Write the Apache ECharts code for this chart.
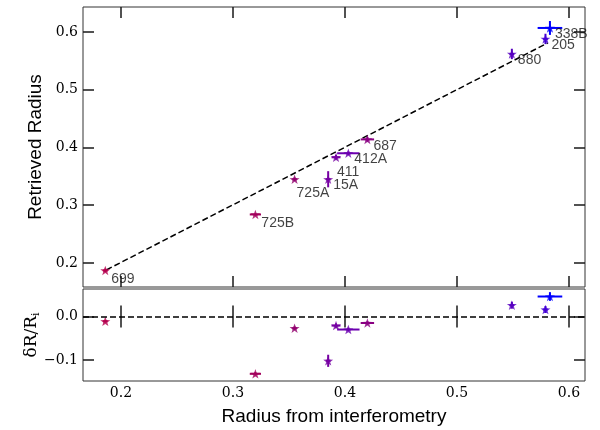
<!DOCTYPE html>
<html>
<head>
<meta charset="utf-8">
<script src="https://cdn.jsdelivr.net/npm/echarts@6/dist/echarts.min.js"></script>
<style>html,body{margin:0;padding:0;background:#fff}#chart{width:600px;height:430px}</style>
</head>
<body>
<div id="chart"></div>
<script>
// star names
var names = ['699', '725B', '725A', '15A', '411', '412A', '687', '880', '205', '338B'];
// radius from interferometry (x) and its error
var radiusInterf = [0.186, 0.320, 0.355, 0.385, 0.392, 0.403, 0.420, 0.549, 0.579, 0.583];
var radiusInterfErr = [0.002, 0.005, 0.002, 0.002, 0.004, 0.010, 0.006, 0.002, 0.002, 0.011];
// retrieved radius (top panel) and its error
var radiusRetrieved = [0.187, 0.284, 0.345, 0.345, 0.383, 0.390, 0.414, 0.562, 0.588, 0.607];
var radiusRetrievedErr = [0.003, 0.002, 0.003, 0.014, 0.004, 0.003, 0.004, 0.009, 0.009, 0.012];
// relative difference (bottom panel) and its error
var relDiff = [-0.011, -0.132, -0.027, -0.102, -0.021, -0.030, -0.015, 0.026, 0.016, 0.046];
var relDiffErr = [0.003, 0.004, 0.004, 0.014, 0.005, 0.004, 0.004, 0.008, 0.008, 0.010];
// dashed fit line
var fitX = [0.187, 0.581];
var fitY = [0.188, 0.581];
// tick values
var xTicks = [0.2, 0.3, 0.4, 0.5, 0.6];
var topTicks = [0.2, 0.3, 0.4, 0.5, 0.6];
var bottomTicks = [-0.1, 0.0];

// 样式
var colors = ['#b4004e', '#a3005c', '#92006e', '#7600a2', '#7600a2', '#6c00b0', '#8a0082', '#5800c0', '#4400d4', '#0000ff'];
var labelOffsets = [[6, 9], [6, 9], [2, 14], [5, 6], [1, 15], [6, 6], [6, 7], [6, 6], [6, 6], [5, 6]];
var starPath = 'path://M100,0L123.5,67.6L195.1,69.1L138,112.4L158.8,180.9L100,140L41.2,180.9L62,112.4L4.9,69.1L76.5,67.6Z';
var ink = '#1a1a1a';
var serif = 'DejaVu Serif';
var sans = 'Liberation Sans';

var chart = echarts.init(document.getElementById('chart'), null, {renderer: 'canvas'});

function tickAxis(gridIndex, position, min, max, ticks, withLabels, extra) {
    var axis = {
        type: 'value', gridIndex: gridIndex, position: position,
        min: min, max: max,
        nameMoveOverlap: false,
        axisLine: {show: false},
        splitLine: {show: false},
        axisTick: {show: true, inside: true, length: 11, customValues: ticks,
            lineStyle: {color: ink, width: 1.5}},
        axisLabel: {show: withLabels, customValues: ticks, color: '#000',
            fontFamily: serif, fontSize: 14, margin: 5,
            formatter: function (v) { return v.toFixed(1).replace('-', '\u2212'); }}
    };
    for (var k in extra) axis[k] = extra[k];
    return axis;
}

function errorBars(xIdx, yIdx, ys, yErrs) {
    var rows = names.map(function (n, i) {
        return [radiusInterf[i], ys[i], radiusInterfErr[i], yErrs[i]];
    });
    return {
        type: 'custom', xAxisIndex: xIdx, yAxisIndex: yIdx, data: rows, z: 2, silent: true,
        renderItem: function (params, api) {
            var x = api.value(0), y = api.value(1), xe = api.value(2), ye = api.value(3);
            var style = {stroke: colors[params.dataIndex], lineWidth: 2};
            var a = api.coord([x - xe, y]), b = api.coord([x + xe, y]);
            var c = api.coord([x, y - ye]), d = api.coord([x, y + ye]);
            return {type: 'group', children: [
                {type: 'line', shape: {x1: a[0], y1: a[1], x2: b[0], y2: b[1]}, style: style},
                {type: 'line', shape: {x1: c[0], y1: c[1], x2: d[0], y2: d[1]}, style: style}
            ]};
        }
    };
}

function stars(xIdx, yIdx, ys, withLabels) {
    return {
        type: 'scatter', xAxisIndex: xIdx, yAxisIndex: yIdx, z: 3, silent: true,
        symbol: starPath, symbolKeepAspect: true, symbolSize: 10,
        data: names.map(function (n, i) {
            return {
                name: n, value: [radiusInterf[i], ys[i]],
                itemStyle: {color: colors[i]},
                label: {show: withLabels, position: 'inside', formatter: '{b}',
                    align: 'left', verticalAlign: 'middle', offset: labelOffsets[i],
                    color: '#111', fontFamily: sans, fontSize: 14}
            };
        })
    };
}

var xMin = 0.1661, xMax = 0.6143;

var option = {
    animation: false,
    backgroundColor: '#fff',
    grid: [
        {left: 83, right: 15, top: 7, height: 280, show: true, borderColor: '#333', borderWidth: 1},
        {left: 83, right: 15, top: 289, height: 92, show: true, borderColor: '#333', borderWidth: 1}
    ],
    xAxis: [
        tickAxis(0, 'bottom', xMin, xMax, xTicks, false, {}),
        tickAxis(0, 'top', xMin, xMax, xTicks, false, {}),
        tickAxis(1, 'bottom', xMin, xMax, xTicks, true, {
            name: 'Radius from interferometry', nameLocation: 'middle', nameGap: 26,
            nameTextStyle: {color: '#000', fontFamily: sans, fontSize: 19}
        }),
        tickAxis(1, 'top', xMin, xMax, xTicks, false, {})
    ],
    yAxis: [
        tickAxis(0, 'left', 0.1584, 0.6433, topTicks, true, {
            name: 'Retrieved Radius', nameLocation: 'middle', nameGap: 38,
            nameTextStyle: {color: '#000', fontFamily: sans, fontSize: 19}
        }),
        tickAxis(0, 'right', 0.1584, 0.6433, topTicks, false, {}),
        tickAxis(1, 'left', -0.1485, 0.0633, bottomTicks, true, {
            name: '{a|\u03b4R/R}{b|i}', nameLocation: 'middle', nameGap: 41,
            nameTextStyle: {color: '#000', fontFamily: serif, fontSize: 17,
                rich: {
                    a: {fontFamily: serif, fontSize: 17, lineHeight: 20, color: '#000'},
                    b: {fontFamily: serif, fontSize: 11, lineHeight: 10, verticalAlign: 'bottom', color: '#000'}
                }}
        }),
        tickAxis(1, 'right', -0.1485, 0.0633, bottomTicks, false, {})
    ],
    series: [
        {
            type: 'line', xAxisIndex: 0, yAxisIndex: 0, silent: true, symbol: 'none', z: 1,
            data: fitX.map(function (x, i) { return [x, fitY[i]]; }),
            lineStyle: {color: '#000', width: 1.5, type: [6, 3]}
        },
        errorBars(0, 0, radiusRetrieved, radiusRetrievedErr),
        stars(0, 0, radiusRetrieved, true),
        {
            type: 'line', xAxisIndex: 2, yAxisIndex: 2, silent: true, symbol: 'none', z: 1,
            data: [],
            markLine: {silent: true, symbol: 'none', label: {show: false},
                lineStyle: {color: '#000', width: 1.5, type: [6, 3]},
                data: [{yAxis: 0}]}
        },
        errorBars(2, 2, relDiff, relDiffErr),
        stars(2, 2, relDiff, false)
    ]
};

chart.setOption(option);
</script>
</body>
</html>
